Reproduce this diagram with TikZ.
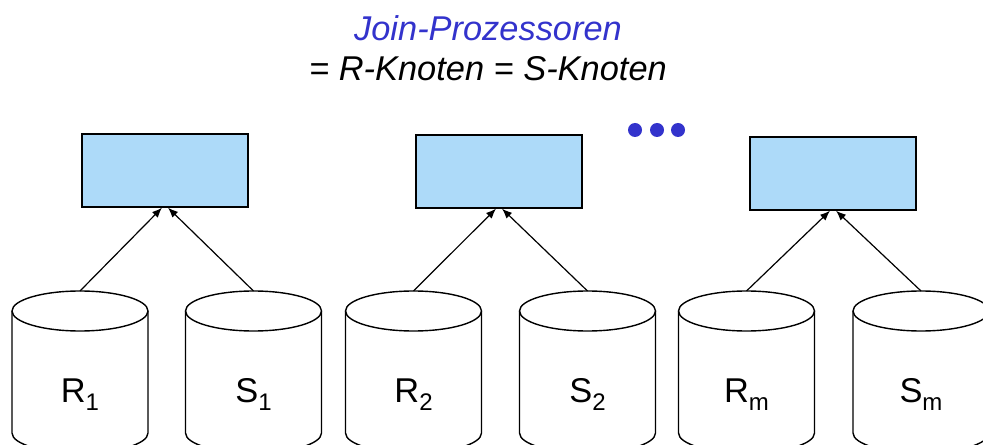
\documentclass[tikz,border=0pt]{standalone}
\usepackage{fontspec}
\setmainfont{Liberation Sans}
\usepackage{tikz}
\usetikzlibrary{
  arrows.meta,
  positioning
}
\definecolor{joinblue}{RGB}{51,51,204}
\definecolor{procfill}{RGB}{173,218,249}
\tikzset{>={Latex[length=5pt,width=4pt]}}
\tikzset{font=\fontsize{17.2}{20.6}\selectfont}
\tikzset{
  proc/.style={draw, fill=procfill, line width=0.7pt, minimum width=83pt,
    minimum height=36.5pt, inner sep=0pt},
  link/.style={->, line width=0.6pt},
  dbline/.style={line width=0.7pt}
}
\newcommand{\dbsub}[1]{\raisebox{-4pt}{\fontsize{12}{14}\selectfont #1}}

\begin{document}
\begin{tikzpicture}[x=0.5pt, y=0.5pt]
  \useasboundingbox (0,0) rectangle (983,444);%
  % heading
  \node[anchor=base, text=joinblue, font=\fontsize{17.2}{20.6}\selectfont\itshape] (title) at (488,403) {Join-Prozessoren};%
  \node[anchor=base, font=\fontsize{17.2}{20.6}\selectfont\itshape] (subtitle) at (488,363) {= R-Knoten = S-Knoten};%
  % the dots
  \foreach \x in {635,657,678}
    \fill[joinblue] (\x,314) circle (7);%
  % join processors
  \node[proc] (p1) at (165,273.5) {};%
  \node[proc] (p2) at (499,272.5) {};%
  \node[proc] (pm) at (833,270.5) {};%
  % disks
  \foreach \x/\n/\l in {80/r1/R\dbsub{1}, 253.5/s1/S\dbsub{1},
      413.5/r2/R\dbsub{2}, 587.5/s2/S\dbsub{2},
      746.5/rm/R\dbsub{m}, 921/sm/S\dbsub{m}} {
    \draw[dbline, fill=white] (\x-68,133) -- (\x-68,11) arc (180:360:68 and 20) -- (\x+68,133);%
    \draw[dbline] (\x,133) ellipse (68 and 20);%
    \coordinate (\n) at (\x,153);%
    \node[anchor=base] (\n label) at (\x,42) {\l};%
  }
  % connections
  \draw[link] (r1) -- ([xshift=-1.5pt]p1.south);%
  \draw[link] (s1) -- ([xshift=1.5pt]p1.south);%
  \draw[link] (r2) -- ([xshift=-1.5pt]p2.south);%
  \draw[link] (s2) -- ([xshift=1.5pt]p2.south);%
  \draw[link] (rm) -- ([xshift=-1.5pt]pm.south);%
  \draw[link] (sm) -- ([xshift=1.5pt]pm.south);%
\end{tikzpicture}
\end{document}
